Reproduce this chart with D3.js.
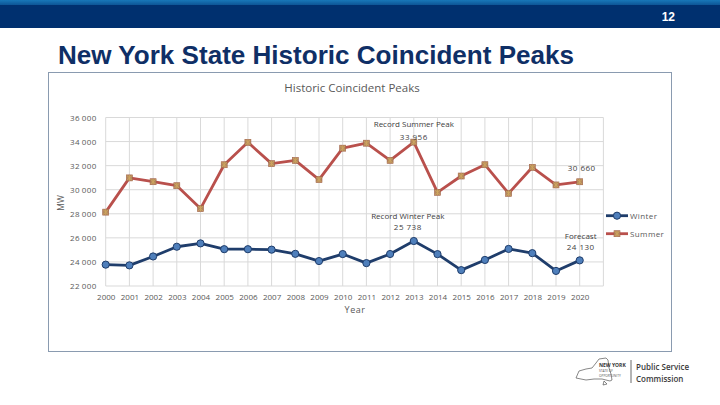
<!DOCTYPE html>
<html><head><meta charset="utf-8">
<script src="https://cdn.jsdelivr.net/npm/d3@7"></script>
<style>
html,body{margin:0;padding:0;background:#fff;}
svg{display:block;}
</style></head>
<body>
<svg id="c" width="720" height="405"></svg>
<script>
const years = [2000,2001,2002,2003,2004,2005,2006,2007,2008,2009,2010,2011,2012,2013,2014,2015,2016,2017,2018,2019,2020];
const winter = [23774,23713,24454,25262,25541,25060,25057,25021,24673,24074,24654,23901,24658,25738,24648,23317,24164,25081,24728,23253,24130];
const summer = [28138,30982,30664,30333,28433,32075,33939,32169,32432,30844,33452,33865,32439,33956,29782,31138,32076,29699,31861,30397,30660];
const yTicks = [22000,24000,26000,28000,30000,32000,34000,36000];
const seriesNames = ["Winter","Summer"];
const annotations = [
  {year:2013, value:33956, line1:"Record Summer Peak", line2:"33 956", dx:0, y1:124, y2:137},
  {year:2020, value:30660, line1:"", line2:"30 660", dx:2, y1:0, y2:168},
  {year:2013, value:25738, line1:"Record Winter Peak", line2:"25 738", dx:-6, y1:216, y2:227},
  {year:2020, value:24130, line1:"Forecast", line2:"24 130", dx:1, y1:236, y2:247}
];

const svg = d3.select("#c");
const font = "'Open Sans', 'Noto Sans', sans-serif";

// header band
svg.append("rect").attr("x",0).attr("y",0).attr("width",720).attr("height",28).attr("fill","#00306f");
const g0 = svg.append("defs").append("linearGradient").attr("id","topg").attr("x1",0).attr("y1",0).attr("x2",0).attr("y2",1);
g0.append("stop").attr("offset","0%").attr("stop-color","#1877b8");
g0.append("stop").attr("offset","100%").attr("stop-color","#0d5596");
svg.append("rect").attr("x",0).attr("y",0).attr("width",720).attr("height",5).attr("fill","url(#topg)");
svg.append("text").attr("x",675).attr("y",21).attr("text-anchor","end")
  .attr("font-family","Arial, 'Liberation Sans', sans-serif").attr("font-weight","bold")
  .attr("font-size",12).attr("fill","#fff").text("12");

// slide title
svg.append("text").attr("x",58).attr("y",64)
  .attr("font-family","Arial, 'Liberation Sans', sans-serif").attr("font-weight","bold")
  .attr("font-size",26).attr("fill","#0f2f66").attr("textLength",516).attr("lengthAdjust","spacingAndGlyphs")
  .text("New York State Historic Coincident Peaks");

// chart box
svg.append("rect").attr("x",48.5).attr("y",72.5).attr("width",623).attr("height",279)
  .attr("fill","#fff").attr("stroke","#8a9bb0").attr("stroke-width",1);

svg.append("text").attr("x",352).attr("y",92).attr("text-anchor","middle")
  .attr("font-family",font).attr("font-size",11.5).attr("fill","#595959").text("Historic Coincident Peaks");

const x = d3.scaleLinear().domain([2000,2021]).range([105.7,603.4]);
const y = d3.scaleLinear().domain([22000,36000]).range([286,117.5]);

// grid
const grid = svg.append("g");
grid.selectAll(".h").data(yTicks).join("line")
  .attr("x1",x(2000)).attr("x2",x(2021)).attr("y1",d=>y(d)).attr("y2",d=>y(d))
  .attr("stroke","#d9d9d9").attr("stroke-width",1);
grid.selectAll(".v").data(years.concat([2021])).join("line")
  .attr("x1",d=>x(d)).attr("x2",d=>x(d)).attr("y1",y(22000)).attr("y2",y(36000))
  .attr("stroke","#d9d9d9").attr("stroke-width",1);

// axes
const fmt = d => d3.format(",")(d).replace(",", "\u2009");
const yAxis = svg.append("g").attr("transform",`translate(${x(2000)-6},0)`)
  .call(d3.axisLeft(y).tickValues(yTicks).tickSize(0).tickFormat(fmt));
yAxis.select(".domain").remove();
yAxis.selectAll("text").attr("font-family",font).attr("font-size",8).attr("fill","#595959").attr("letter-spacing","0.4px");

const xAxis = svg.append("g").attr("transform",`translate(0,${y(22000)+5})`)
  .call(d3.axisBottom(x).tickValues(years).tickSize(0).tickFormat(d3.format("d")));
xAxis.select(".domain").remove();
xAxis.selectAll("text").attr("font-family",font).attr("font-size",8).attr("fill","#595959");

svg.append("text").attr("x",355).attr("y",313).attr("text-anchor","middle")
  .attr("font-family",font).attr("font-size",9).attr("fill","#595959").attr("letter-spacing","0.5px").text("Year");
svg.append("text").attr("transform","translate(64,203) rotate(-90)").attr("text-anchor","middle")
  .attr("font-family",font).attr("font-size",8.5).attr("fill","#595959").text("MW");

// lines
const lineGen = d3.line().x((d,i)=>x(years[i])).y(d=>y(d));
const sumColor = "#b9504c", winColor = "#1f3d6b";
svg.append("path").datum(summer).attr("d",lineGen).attr("fill","none").attr("stroke",sumColor).attr("stroke-width",2.8).attr("stroke-linejoin","round");
svg.append("path").datum(winter).attr("d",lineGen).attr("fill","none").attr("stroke",winColor).attr("stroke-width",2.8).attr("stroke-linejoin","round");

function sumMarker(sel){
  sel.append("rect").attr("x",-3).attr("y",-3).attr("width",6).attr("height",6).attr("fill","#b58a5c").attr("stroke","#a0604a").attr("stroke-width",0.6);
  sel.append("path").attr("d","M-2.5,-2.5L2.5,2.5M-2.5,2.5L2.5,-2.5M0,-3L0,3").attr("stroke","#d0a860").attr("stroke-width",0.8);
}
function winMarker(sel){
  sel.append("circle").attr("r",3.6).attr("fill","#4f7fbb").attr("stroke","#1f3d6b").attr("stroke-width",1);
}
svg.selectAll(".sm").data(summer).join("g").attr("transform",(d,i)=>`translate(${x(years[i])},${y(d)})`).call(sumMarker);
svg.selectAll(".wm").data(winter).join("g").attr("transform",(d,i)=>`translate(${x(years[i])},${y(d)})`).call(winMarker);

// annotations
annotations.forEach(a=>{
  const cx = x(a.year)+a.dx;
  if(a.line1) svg.append("text").attr("x",cx).attr("y",a.y1+3).attr("text-anchor","middle")
    .attr("font-family",font).attr("font-size",8).attr("fill","#404040").text(a.line1);
  svg.append("text").attr("x",cx).attr("y",a.y2+3).attr("text-anchor","middle")
    .attr("font-family",font).attr("font-size",8).attr("fill","#404040").attr("letter-spacing","0.5px").text(a.line2);
});

// legend
const legY = [215.7, 233.7];
seriesNames.forEach((n,i)=>{
  const g = svg.append("g");
  g.append("line").attr("x1",606).attr("x2",628).attr("y1",legY[i]).attr("y2",legY[i])
    .attr("stroke", i===0?winColor:sumColor).attr("stroke-width",2.8);
  const m = g.append("g").attr("transform",`translate(617,${legY[i]})`);
  if(i===0) winMarker(m); else sumMarker(m);
  g.append("text").attr("x",630).attr("y",legY[i]+3).attr("font-family",font).attr("font-size",8)
    .attr("fill","#595959").attr("letter-spacing","0.4px").text(n);
});

// logo
const logo = svg.append("g");
logo.append("path").attr("d","M576,378 L579,371 L586,369 L592,368 L596,363 L599,359 L606,358 L608,360 L609,368 L611,374 L612,380 L610,381 L602,379 L594,379 L586,380 Z M604,381 L607,384 L603,385 Z")
  .attr("fill","none").attr("stroke","#555").attr("stroke-width",0.7);
logo.append("text").attr("x",599).attr("y",367).attr("font-family",font).attr("font-weight","bold").attr("font-size",5).attr("fill","#333").text("NEW YORK");
logo.append("text").attr("x",599).attr("y",372).attr("font-family",font).attr("font-size",3.2).attr("fill","#555").text("STATE OF");
logo.append("text").attr("x",599).attr("y",376.5).attr("font-family",font).attr("font-size",3.2).attr("fill","#555").text("OPPORTUNITY");
logo.append("line").attr("x1",631).attr("x2",631).attr("y1",360).attr("y2",383).attr("stroke","#444").attr("stroke-width",0.8);
logo.append("text").attr("x",636).attr("y",370).attr("font-family",font).attr("font-weight","600").attr("font-size",8).attr("fill","#3a3a3a").text("Public Service");
logo.append("text").attr("x",636).attr("y",381.5).attr("font-family",font).attr("font-weight","600").attr("font-size",8).attr("fill","#3a3a3a").text("Commission");
</script>
</body></html>
